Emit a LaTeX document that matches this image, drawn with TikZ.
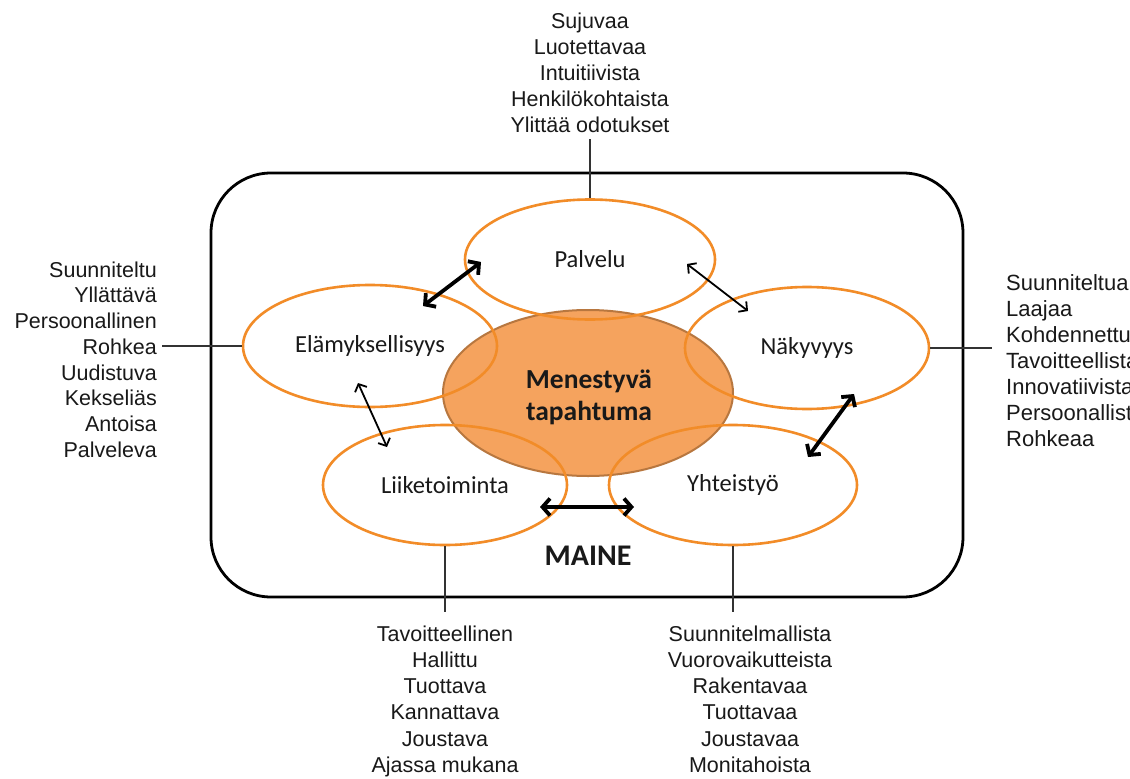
\documentclass[tikz,border=0pt]{standalone}
\usepackage{fontspec}
\setmainfont{Liberation Sans}
\newfontfamily\calibrifont{Carlito}
\usetikzlibrary{shapes.geometric,arrows.meta,calc}

\definecolor{ringorange}{HTML}{F28C28}
\definecolor{corefill}{HTML}{F5A35E}
\definecolor{coreline}{HTML}{B8773F}
\definecolor{linkgrey}{HTML}{333333}

\begin{document}
\begin{tikzpicture}[x=1pt,y=-1pt,
  frame/.style={draw=black, line width=2.8pt, rounded corners=60pt},
  ring/.style={ellipse, draw=ringorange, line width=2.6pt, inner sep=0pt,
    font=\calibrifont\fontsize{24.5}{28}\selectfont, text=black!90},
  core/.style={ellipse, draw=coreline, fill=corefill, line width=2pt, inner sep=0pt},
  coretext/.style={align=center, inner sep=0pt,
    font=\calibrifont\bfseries\fontsize{27.5}{32}\selectfont, text=black!90},
  list/.style={inner sep=0pt, text=black!90, font=\fontsize{21.5}{26}\selectfont},
  link/.style={draw=linkgrey, line width=1.3pt},
  bigarrow/.style={{Straight Barb[length=7.5pt,width=17pt]}-{Straight Barb[length=7.5pt,width=17pt]}, line width=3.8pt},
  smallarrow/.style={{Straight Barb[length=6pt,width=13pt]}-{Straight Barb[length=6pt,width=13pt]}, line width=1.8pt}
]
\clip (0,0) rectangle (1130,779);
\fill[white] (0,0) rectangle (1130,779);

% outer frame
\draw[frame] (211,173) rectangle (963,597);

% central event and the five surrounding areas
\node[core, minimum width=290pt, minimum height=166pt] (core) at (588,393) {};
\node[coretext] (corelabel) at (589,397) {Menestyvä\\tapahtuma};
\node[ring, minimum width=250pt, minimum height=120pt] (pal) at (590,259.5) {Palvelu};
\node[ring, minimum width=254pt, minimum height=122pt] (ela) at (370,346) {Elämyksellisyys};
\node[ring, minimum width=244pt, minimum height=122pt] (nak) at (807,348) {Näkyvyys};
\node[ring, minimum width=244pt, minimum height=120pt] (lii) at (445,485) {Liiketoiminta};
\node[ring, minimum width=248pt, minimum height=120pt] (yht) at (733,485) {Yhteistyö};

\node[font=\calibrifont\bfseries\fontsize{30}{36}\selectfont, text=black!90, inner sep=0pt] (maine) at (588,556) {MAINE};

% attribute lists
\node[list, anchor=north, align=center] (tl) at (590,12.5)
  {Sujuvaa\\Luotettavaa\\Intuitiivista\\Henkilökohtaista\\Ylittää odotukset};
\node[list, anchor=north east, align=right, font=\fontsize{21.5}{25.7}\selectfont] (ll) at (157,261.5)
  {Suunniteltu\\Yllättävä\\Persoonallinen\\Rohkea\\Uudistuva\\Kekseliäs\\Antoisa\\Palveleva};
\node[list, anchor=north west, align=left, font=\fontsize{22}{26}\selectfont] (rl) at (1006,274.5)
  {Suunniteltua\\Laajaa\\Kohdennettua\\Tavoitteellista\\Innovatiivista\\Persoonallista\\Rohkeaa};
\node[list, anchor=north, align=center, font=\fontsize{21.5}{26.2}\selectfont] (bl) at (445,625.5)
  {Tavoitteellinen\\Hallittu\\Tuottava\\Kannattava\\Joustava\\Ajassa mukana};
\node[list, anchor=north, align=center, font=\fontsize{21.5}{26.2}\selectfont] (br) at (750,625.5)
  {Suunnitelmallista\\Vuorovaikutteista\\Rakentavaa\\Tuottavaa\\Joustavaa\\Monitahoista};

% leader lines from the areas to their lists
\draw[link] (pal.north) -- ([yshift=-6pt]tl.south);
\draw[link] (ela.west) -- ($(ela.west -| ll.east)+(5,0)$);
\draw[link] (nak.east) -- ($(nak.east -| rl.west)+(-14,0)$);
\draw[link] (lii.south) -- ($(lii.south |- bl.north)+(0,-14)$);
\draw[link] (yht.south) -- ($(yht.south |- br.north)+(0,-14)$);

% interaction arrows
\coordinate (pe1) at (423,306);
\coordinate (pe2) at (481,262);
\coordinate (pn1) at (687,264);
\coordinate (pn2) at (748,311);
\coordinate (el1) at (358,383);
\coordinate (el2) at (387,447);
\coordinate (ny1) at (854,394);
\coordinate (ny2) at (808,457);
\coordinate (ly1) at (540,507);
\coordinate (ly2) at (634,507);

\draw[bigarrow] (pe1) -- (pe2);
\draw[smallarrow] (pn1) -- (pn2);
\draw[smallarrow] (el1) -- (el2);
\draw[bigarrow] (ny1) -- (ny2);
\draw[bigarrow] (ly1) -- (ly2);
\end{tikzpicture}
\end{document}
